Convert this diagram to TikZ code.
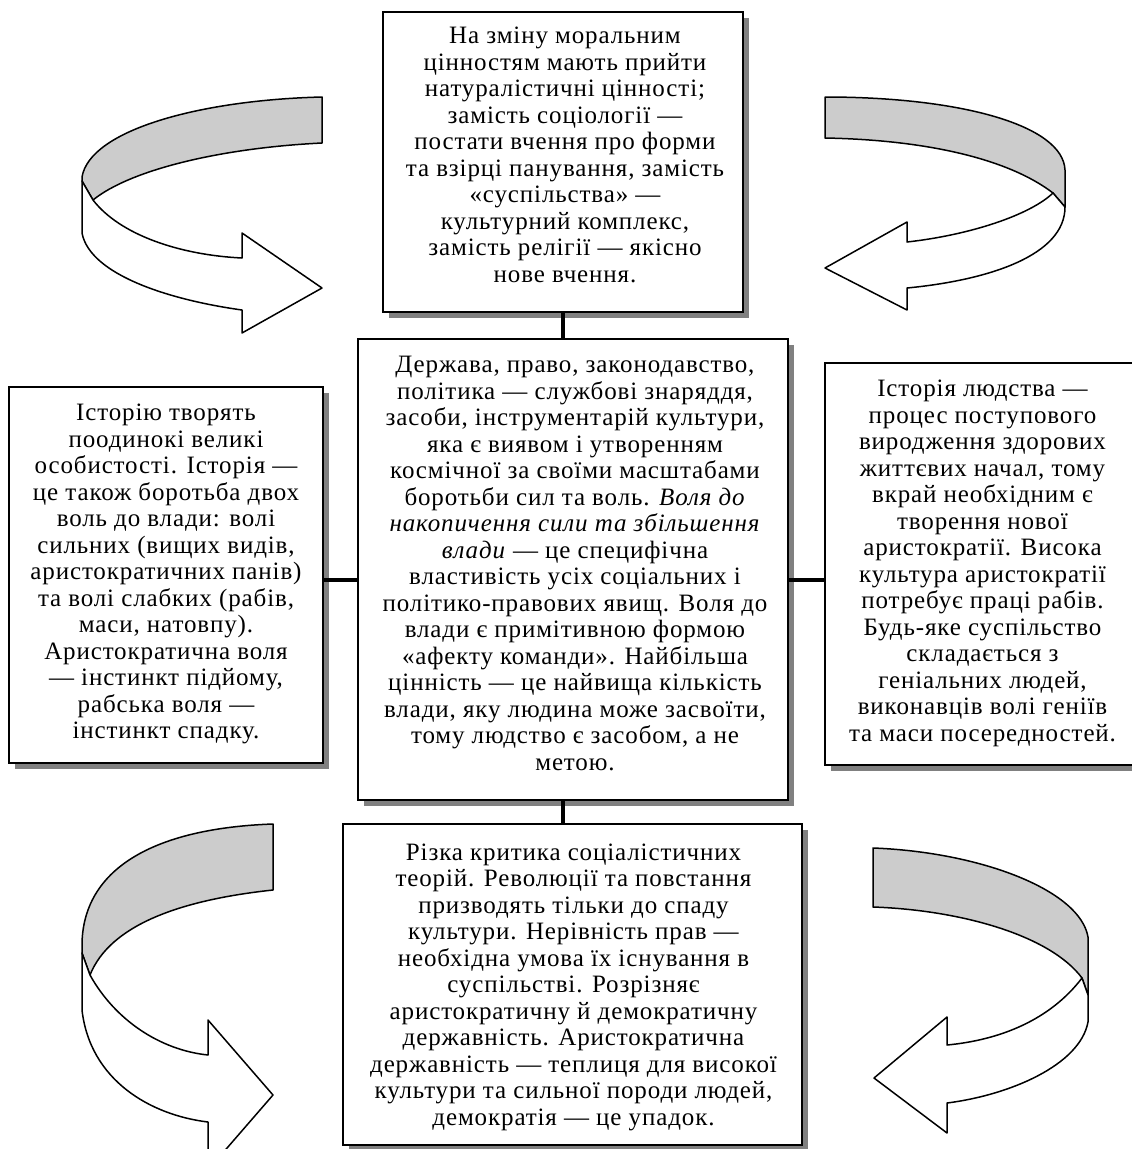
\documentclass[tikz,border=0pt]{standalone}
\usepackage{fontspec}
\setmainfont{Liberation Serif}[LetterSpace=3.5]
\usetikzlibrary{shadows}
\begin{document}
\begin{tikzpicture}[x=1pt,y=-1pt,
  box/.style={draw, line width=2.3pt, fill=white, inner sep=0pt,
    drop shadow={opacity=1, fill=black!50, shadow xshift=5.5pt, shadow yshift=-5.5pt}},
  txt/.style={align=center, inner sep=0pt, font=\fontsize{25}{26.5}\selectfont},
  conn/.style={line width=4pt},
  band/.style={draw, line width=1.5pt, line join=round},
  back/.style={band, fill=black!20},
  front/.style={band, fill=white}]
\useasboundingbox (0,0) rectangle (1132,1149);
\clip (0,0) rectangle (1132,1149);

% boxes
\node[box, minimum width=360pt, minimum height=300pt] (top) at (563,162) {};
\node[box, minimum width=430pt, minimum height=461pt] (mid) at (573,569.5) {};
\node[box, minimum width=314pt, minimum height=376pt] (lft) at (166,575) {};
\node[box, minimum width=315pt, minimum height=402pt] (rgt) at (982.5,564) {};
\node[box, minimum width=459pt, minimum height=321pt] (bot) at (572.5,984.5) {};

\coordinate (hub) at (563,580);

% connectors
\draw[conn] (top.south -| hub) -- (mid.north -| hub);
\draw[conn] (mid.south -| hub) -- (bot.north -| hub);
\draw[conn] (lft.east |- hub) -- (mid.west |- hub);
\draw[conn] (mid.east |- hub) -- (rgt.west |- hub);

% texts
\node[txt] (topT) at (565,155) {На зміну моральним\\
цінностям мають прийти\\
натуралістичні цінності;\\
замість соціології —\\
постати вчення про форми\\
та взірці панування, замість\\
«суспільства» —\\
культурний комплекс,\\
замість релігії — якісно\\
нове вчення.};

\node[txt] (midT) at (575,563.5) {Держава, право, законодавство,\\
політика — службові знаряддя,\\
засоби, інструментарій культури,\\
яка є виявом і утворенням\\
космічної за своїми масштабами\\
боротьби сил та воль. \textit{Воля до}\\
\textit{накопичення сили та збільшення}\\
\textit{влади} — це специфічна\\
властивість усіх соціальних і\\
політико-правових явищ. Воля до\\
влади є примітивною формою\\
«афекту команди». Найбільша\\
цінність — це найвища кількість\\
влади, яку людина може засвоїти,\\
тому людство є засобом, а не\\
метою.};

\node[txt] (lftT) at (166,574) {Історію творять\\
поодинокі великі\\
особистості. Історія —\\
це також боротьба двох\\
воль до влади: волі\\
сильних (вищих видів,\\
аристократичних панів)\\
та волі слабких (рабів,\\
маси, натовпу).\\
Аристократична воля\\
— інстинкт підйому,\\
рабська воля —\\
інстинкт спадку.};

\node[txt] (rgtT) at (982.5,563.5) {Історія людства —\\
процес поступового\\
виродження здорових\\
життєвих начал, тому\\
вкрай необхідним є\\
творення нової\\
аристократії. Висока\\
культура аристократії\\
потребує праці рабів.\\
Будь-яке суспільство\\
складається з\\
геніальних людей,\\
виконавців волі геніїв\\
та маси посередностей.};

\node[txt] (botT) at (573.5,987) {Різка критика соціалістичних\\
теорій. Революції та повстання\\
призводять тільки до спаду\\
культури. Нерівність прав —\\
необхідна умова їх існування в\\
суспільстві. Розрізняє\\
аристократичну й демократичну\\
державність. Аристократична\\
державність — теплиця для високої\\
культури та сильної породи людей,\\
демократія — це упадок.};

% top-left curved arrow
\draw[back] (322,97) .. controls (200,100) and (90,130) .. (82,177)
  -- (82,181) -- (93,200) .. controls (130,170) and (220,148) .. (322,143) -- cycle;
\draw[front] (82,181) -- (82,233) .. controls (90,275) and (170,300) .. (242,310)
  -- (242,333) -- (322,288) -- (242,233) -- (242,258)
  .. controls (180,255) and (120,235) .. (93,200) -- cycle;

% top-right curved arrow
\draw[back] (825,97) .. controls (960,97) and (1063,125) .. (1065,170)
  -- (1065,207) -- (1053,193) .. controls (1010,160) and (930,140) .. (825,138) -- cycle;
\draw[front] (1065,207) -- (1053,193) .. controls (1030,215) and (970,235) .. (907,242)
  -- (907,222) -- (825,268) -- (907,310) -- (907,288)
  .. controls (990,280) and (1065,255) .. (1065,207) -- cycle;

% bottom-left curved arrow
\draw[back] (273,824) .. controls (160,828) and (84,865) .. (82,943)
  -- (82,953) -- (90,975) .. controls (110,925) and (180,900) .. (273,890) -- cycle;
\draw[front] (82,953) -- (82,1010) .. controls (90,1080) and (150,1115) .. (208,1122)
  -- (208,1170) -- (273,1095) -- (208,1020) -- (208,1055)
  .. controls (160,1050) and (115,1020) .. (90,975) -- cycle;

% bottom-right curved arrow
\draw[back] (873,848) .. controls (980,852) and (1080,890) .. (1088,937)
  -- (1088,995) -- (1082,978) .. controls (1050,935) and (960,910) .. (873,907) -- cycle;
\draw[front] (1088,995) -- (1088,1022) .. controls (1080,1065) and (1010,1095) .. (947,1103)
  -- (947,1133) -- (874,1078) -- (947,1017) -- (947,1045)
  .. controls (1000,1040) and (1050,1020) .. (1082,978) -- cycle;
\end{tikzpicture}
\end{document}
